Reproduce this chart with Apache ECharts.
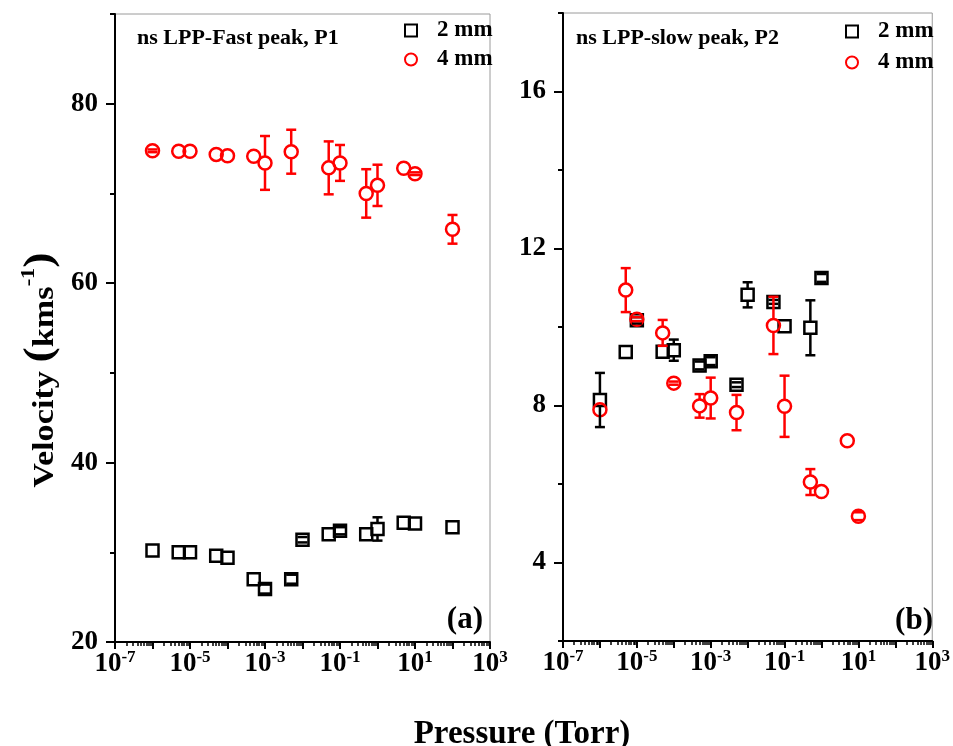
<!DOCTYPE html>
<html>
<head>
<meta charset="utf-8">
<script src="https://cdn.jsdelivr.net/npm/echarts@6/dist/echarts.min.js"></script>
<style>html,body{margin:0;padding:0;background:#fff}#c{width:953px;height:746px}</style>
</head>
<body>
<div id="c"></div>
<script>
// ---- Data ----
// Panel (a): ns LPP-Fast peak, P1
const pA2 = [1e-6, 5e-6, 1e-5, 5e-5, 1e-4, 5e-4, 1e-3, 5e-3, 1e-2, 5e-2, 1e-1, 0.5, 1, 5, 10, 100];
const vA2 = [30.2, 30.0, 30.0, 29.6, 29.4, 27.0, 25.9, 27.0, 31.4, 32.0, 32.4, 32.0, 32.6, 33.3, 33.2, 32.8];
const eA2 = [0, 0, 0, 0, 0, 0, 0.5, 0.5, 0.3, 0, 0.4, 0, 1.3, 0, 0, 0];
const pA4 = [1e-6, 5e-6, 1e-5, 5e-5, 1e-4, 5e-4, 1e-3, 5e-3, 5e-2, 1e-1, 0.5, 1, 5, 10, 100];
const vA4 = [74.75, 74.7, 74.7, 74.35, 74.2, 74.15, 73.4, 74.65, 72.85, 73.4, 70.0, 70.9, 72.8, 72.2, 66.0];
const eA4 = [0.15, 0, 0, 0, 0, 0, 3.0, 2.45, 2.95, 2.0, 2.7, 2.3, 0, 0.15, 1.6];
// Panel (b): ns LPP-slow peak, P2
const pB2 = [1e-6, 5e-6, 1e-5, 5e-5, 1e-4, 5e-4, 1e-3, 5e-3, 1e-2, 5e-2, 1e-1, 0.5, 1];
const vB2 = [8.14, 9.36, 10.17, 9.37, 9.41, 9.02, 9.13, 8.53, 10.82, 10.64, 10.02, 9.98, 11.25];
const eB2 = [0.69, 0, 0.08, 0, 0.27, 0.1, 0.1, 0.06, 0.32, 0.05, 0, 0.7, 0.1];
const pB4 = [1e-6, 5e-6, 1e-5, 5e-5, 1e-4, 5e-4, 1e-3, 5e-3, 5e-2, 1e-1, 0.5, 1, 5, 10];
const vB4 = [7.89, 10.94, 10.2, 9.85, 8.57, 7.99, 8.19, 7.82, 10.04, 7.98, 6.05, 5.81, 7.1, 5.18];
const eB4 = [0, 0.56, 0.05, 0.33, 0.04, 0.3, 0.52, 0.45, 0.73, 0.78, 0.33, 0, 0, 0.1];

const seriesNames = ['2 mm', '4 mm'];
const panelTitles = ['ns LPP-Fast peak, P1', 'ns LPP-slow peak, P2'];
const panelTags = ['(a)', '(b)'];
const xLabelValues = [1e-7, 1e-5, 1e-3, 1e-1, 1e1, 1e3];
const xDecades = [1e-7, 1e-6, 1e-5, 1e-4, 1e-3, 1e-2, 1e-1, 1, 1e1, 1e2, 1e3];
const yMajorA = [20, 40, 60, 80];
const yMinorA = [30, 50, 70, 90];
const yMajorB = [4, 8, 12, 16];
const yMinorB = [2, 6, 10, 14, 18];
const xTitle = 'Pressure (Torr)';

// minor log ticks 2..9 per decade
const xMinor = [];
for (let k = -7; k < 3; k++) for (let m = 2; m <= 9; m++) xMinor.push(m * Math.pow(10, k));

const FF = 'Liberation Serif';
const RED = '#ff0000';

function zip(p, v, e) { return p.map((x, i) => e ? [x, v[i], e[i]] : [x, v[i]]); }

function xAxes(grid) {
  return [
    {
      type: 'log', logBase: 10, gridIndex: grid, min: 1e-7, max: 1e3, position: 'bottom',
      axisLine: { onZero: false, lineStyle: { color: '#000', width: 2 } },
      axisTick: { customValues: xDecades, length: 7, lineStyle: { color: '#000', width: 2 } },
      axisLabel: {
        customValues: xLabelValues, margin: 7, color: '#000',
        formatter: v => '{b|10}{s|' + Math.round(Math.log10(v)) + '}',
        rich: {
          b: { fontFamily: FF, fontWeight: 'bold', fontSize: 27, lineHeight: 29, verticalAlign: 'bottom', color: '#000' },
          s: { fontFamily: FF, fontWeight: 'bold', fontSize: 17, lineHeight: 16, verticalAlign: 'top', color: '#000' }
        }
      },
      splitLine: { show: false }, minorTick: { show: false }
    },
    {
      type: 'log', logBase: 10, gridIndex: grid, min: 1e-7, max: 1e3, position: 'bottom',
      axisLine: { show: false, onZero: false },
      axisTick: { customValues: xMinor, length: 4, lineStyle: { color: '#000', width: 1.5 } },
      axisLabel: { show: false }, splitLine: { show: false }
    }
  ];
}
function yAxes(grid, min, max, major, minor) {
  return [
    {
      type: 'value', gridIndex: grid, min: min, max: max, position: 'left',
      axisLine: { show: true, onZero: false, lineStyle: { color: '#000', width: 2 } },
      axisTick: { show: true, customValues: major, length: 9, lineStyle: { color: '#000', width: 2 } },
      axisLabel: { customValues: major, margin: 17, color: '#000', fontFamily: FF, fontWeight: 'bold', fontSize: 27 },
      splitLine: { show: false }
    },
    {
      type: 'value', gridIndex: grid, min: min, max: max, position: 'left',
      axisLine: { show: false, onZero: false },
      axisTick: { show: true, customValues: minor, length: 5, lineStyle: { color: '#000', width: 2 } },
      axisLabel: { show: false }, splitLine: { show: false }
    }
  ];
}

function errRender(color, r) {
  return function (params, api) {
    const x = api.value(0), y = api.value(1), e = api.value(2);
    const children = [];
    if (e > 0) {
      const c = api.coord([x, y]), t = api.coord([x, y + e]), b = api.coord([x, y - e]);
      const hw = 5;
      const style = { stroke: color, lineWidth: 2.5 };
      if (c[1] - t[1] > r) children.push({ type: 'line', shape: { x1: c[0], y1: c[1] - r, x2: c[0], y2: t[1] }, style });
      if (b[1] - c[1] > r) children.push({ type: 'line', shape: { x1: c[0], y1: c[1] + r, x2: c[0], y2: b[1] }, style });
      children.push({ type: 'line', shape: { x1: c[0] - hw, y1: t[1], x2: c[0] + hw, y2: t[1] }, style });
      children.push({ type: 'line', shape: { x1: c[0] - hw, y1: b[1], x2: c[0] + hw, y2: b[1] }, style });
    }
    return { type: 'group', children };
  };
}

function scatter(name, data, xi, yi, sym, color) {
  return {
    type: 'scatter', name: name, xAxisIndex: xi, yAxisIndex: yi, data: data,
    symbol: sym, symbolSize: sym === 'rect' ? 12 : 13, z: 3,
    itemStyle: { color: 'rgba(255,255,255,0)', borderColor: color, borderWidth: 2.5, opacity: 1 },
    emphasis: { disabled: true }
  };
}
function errSeries(name, data, xi, yi, color, r) {
  return {
    type: 'custom', name: name, xAxisIndex: xi, yAxisIndex: yi, data: data, z: 4,
    encode: { x: 0, y: 1 }, renderItem: errRender(color, r), silent: true
  };
}

const gridA = { left: 115, top: 14, width: 375, height: 628, show: true, borderColor: '#9a9a9a', borderWidth: 1, backgroundColor: 'transparent' };
const gridB = { left: 563, top: 13, width: 374, height: 628, show: true, borderColor: '#9a9a9a', borderWidth: 1, backgroundColor: 'transparent' };

const legendCommon = {
  orient: 'vertical', itemWidth: 12, itemHeight: 12, selectedMode: false, padding: 0,
  textStyle: { fontFamily: FF, fontWeight: 'bold', fontSize: 23, color: '#000', padding: [0, 0, 0, 15] },
  data: seriesNames
};

const option = {
  animation: false,
  backgroundColor: '#fff',
  grid: [gridA, gridB],
  xAxis: [...xAxes(0), ...xAxes(1)],
  yAxis: [...yAxes(0, 20, 90, yMajorA, yMinorA), ...yAxes(1, 2, 18, yMajorB, yMinorB)],
  legend: [
    Object.assign({}, legendCommon, { left: 404, top: 19, itemGap: 6 }),
    Object.assign({}, legendCommon, { left: 845, top: 20, itemGap: 8 })
  ],
  series: [
    scatter(seriesNames[0], zip(pA2, vA2), 0, 0, 'rect', '#000'),
    scatter(seriesNames[1], zip(pA4, vA4), 0, 0, 'circle', RED),
    errSeries('errA2', zip(pA2, vA2, eA2), 0, 0, '#000', 6),
    errSeries('errA4', zip(pA4, vA4, eA4), 0, 0, RED, 6.5),
    scatter(seriesNames[0], zip(pB2, vB2), 2, 2, 'rect', '#000'),
    scatter(seriesNames[1], zip(pB4, vB4), 2, 2, 'circle', RED),
    errSeries('errB2', zip(pB2, vB2, eB2), 2, 2, '#000', 6),
    errSeries('errB4', zip(pB4, vB4, eB4), 2, 2, RED, 6.5)
  ],
  graphic: [
    { type: 'text', x: 137, y: 38, style: { text: panelTitles[0], fontFamily: FF, fontWeight: 'bold', fontSize: 22, fill: '#000', align: 'left', verticalAlign: 'middle' } },
    { type: 'text', x: 576, y: 38, style: { text: panelTitles[1], fontFamily: FF, fontWeight: 'bold', fontSize: 22, fill: '#000', align: 'left', verticalAlign: 'middle' } },
    { type: 'text', x: 483, y: 620, style: { text: panelTags[0], fontFamily: FF, fontWeight: 'bold', fontSize: 31, fill: '#000', align: 'right', verticalAlign: 'middle' } },
    { type: 'text', x: 933, y: 621, style: { text: panelTags[1], fontFamily: FF, fontWeight: 'bold', fontSize: 31, fill: '#000', align: 'right', verticalAlign: 'middle' } },
    { type: 'text', x: 522, y: 734, style: { text: xTitle, fontFamily: FF, fontWeight: 'bold', fontSize: 33, fill: '#000', align: 'center', verticalAlign: 'middle' } },
    {
      type: 'text', x: 40, y: 370, rotation: Math.PI / 2, scaleX: 1.18,
      style: {
        text: '{a|Velocity }{p|(}{a|kms}{s|-1}{p|)}', align: 'center', verticalAlign: 'middle',
        rich: {
          a: { fontFamily: FF, fontWeight: 'bold', fontSize: 29, lineHeight: 36, verticalAlign: 'bottom', fill: '#000' },
          p: { fontFamily: FF, fontWeight: 'bold', fontSize: 39, lineHeight: 40, verticalAlign: 'bottom', fill: '#000' },
          s: { fontFamily: FF, fontWeight: 'bold', fontSize: 19, lineHeight: 19, verticalAlign: 'top', fill: '#000' }
        }
      }
    }
  ]
};

const chart = echarts.init(document.getElementById('c'), null, { renderer: 'canvas' });
chart.setOption(option);
</script>
</body>
</html>
